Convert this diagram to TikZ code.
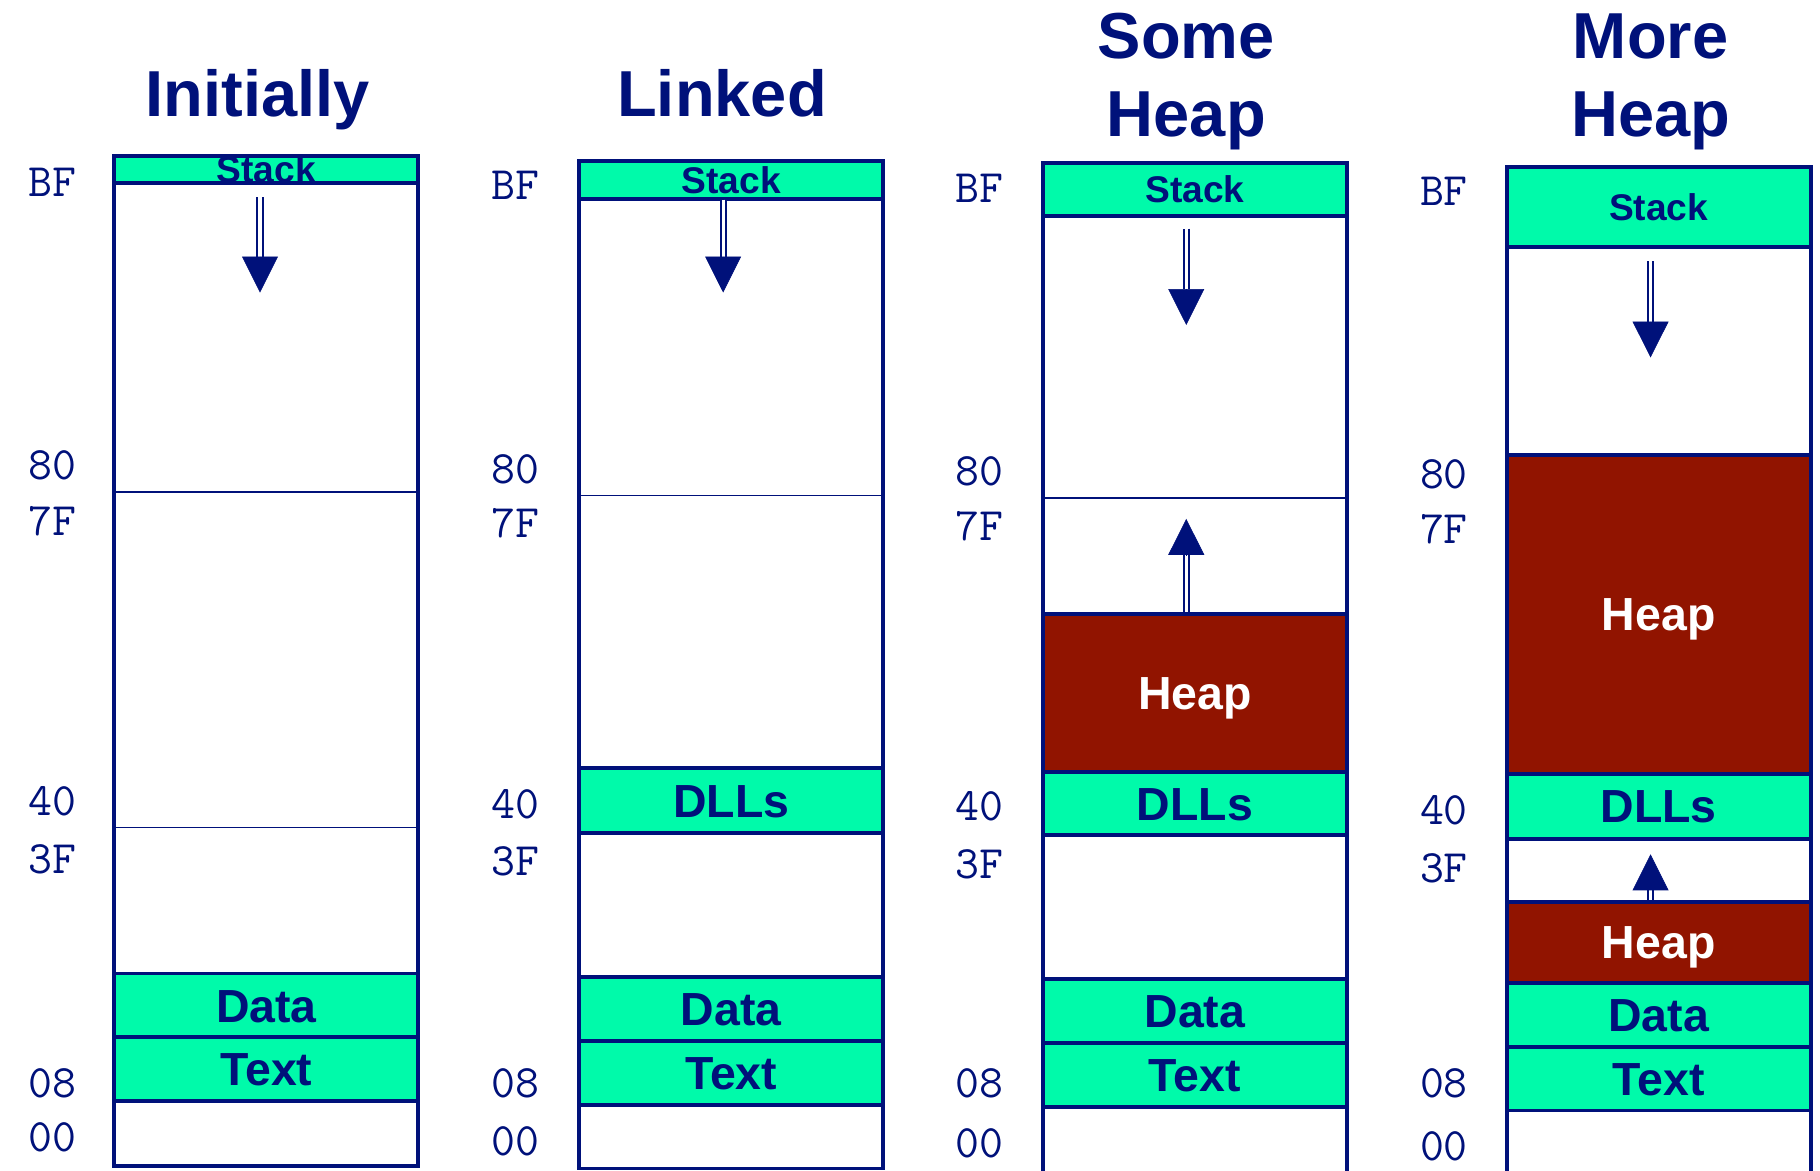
\documentclass[tikz,border=0pt]{standalone}
\usepackage{fontspec}
\setmainfont{Liberation Sans}
\usetikzlibrary{arrows.meta}
\definecolor{navy}{RGB}{0,17,122}
\definecolor{mint}{RGB}{0,250,170}
\definecolor{heapred}{RGB}{145,20,0}
\begin{document}
\begin{tikzpicture}
            [x=0.5pt, y=-0.5pt,
             frame/.style = {draw=navy, line width=1.7pt, minimum width=131pt, inner sep=0pt, anchor=north},
             seg/.style = {frame, fill=mint, text=navy, font=\bfseries\fontsize{20}{24}\selectfont, text height=14.3pt, text depth=0pt},
             stackseg/.style = {seg, font=\bfseries\fontsize{16}{19}\selectfont, text height=11.4pt},
             heapseg/.style = {seg, fill=heapred, text=white},
             title/.style = {text=navy, font=\bfseries\fontsize{28}{34}\selectfont, align=center, anchor=base, inner sep=0pt},
             addr/.style = {text=navy, font=\ttfamily\fontsize{20}{24}\selectfont, inner sep=0pt},
             sep/.style = {draw=navy, line width=0.65pt},
             shaft/.style = {draw=navy, line width=0.85pt, double=white, double distance=1.4pt},
             head/.style = {draw=navy, line width=0.3pt, -{Triangle[width=15.5pt, length=15.5pt]}}]
            \useasboundingbox (0,0) rectangle (1568,1008);
            % titles
            \node[title] (t1) at (222,100) {Initially};
            \node[title] (t2) at (622,100) {Linked};
            \node[title] (t3) at (1022,118) {Some\\Heap};
            \node[title] (t4) at (1422,118) {More\\Heap};
            % initially
            \node[frame, minimum height=435pt] (m1) at (229.5,133) {};
            \draw[sep] (m1.west |- 0,424) -- (m1.east |- 0,424);
            \draw[sep] (m1.west |- 0,713) -- (m1.east |- 0,713);
            \node[stackseg, minimum height=11.5pt] (stack1) at (229.5,133) {Stack};
            \node[seg, minimum height=27.5pt] (data1) at (229.5,837) {Data};
            \node[seg, minimum height=27.5pt] (text1) at (229.5,892) {Text};
            \draw[shaft] (224,170) -- (224,221);
            \draw[head] (224,221) -- (224,252);
            \foreach \a/\y in {BF/157, 80/401, 7F/449, 40/690, 3F/740, 08/933, 00/980}
                \node[addr] (a1\a) at (45,\y) {\a};
            % linked
            \node[frame, minimum height=434pt] (m2) at (630,137) {};
            \draw[sep] (m2.west |- 0,427) -- (m2.east |- 0,427);
            \node[stackseg, minimum height=16.5pt] (stack2) at (630,137) {Stack};
            \node[seg, minimum height=28pt] (dll2) at (630,660) {DLLs};
            \node[seg, minimum height=27.5pt] (data2) at (630,840) {Data};
            \node[seg, minimum height=27.5pt] (text2) at (630,895) {Text};
            \draw[shaft] (623,172) -- (623,221);
            \draw[head] (623,221) -- (623,252);
            \foreach \a/\y in {BF/160, 80/404, 7F/451, 40/693, 3F/742, 08/933, 00/983}
                \node[addr] (a2\a) at (444,\y) {\a};
            % some heap
            \node[frame, minimum height=441pt] (m3) at (1029.5,139) {};
            \draw[sep] (m3.west |- 0,429) -- (m3.east |- 0,429);
            \node[stackseg, minimum height=22.5pt] (stack3) at (1029.5,139) {Stack};
            \node[heapseg, minimum height=68pt] (heap3) at (1029.5,527) {Heap};
            \node[seg, minimum height=27.5pt] (dll3) at (1029.5,663) {DLLs};
            \node[seg, minimum height=27.5pt] (data3) at (1029.5,842) {Data};
            \node[seg, minimum height=27.5pt] (text3) at (1029.5,897) {Text};
            \draw[shaft] (1022,197) -- (1022,249);
            \draw[head] (1022,249) -- (1022,280);
            \draw[shaft] (1022,527) -- (1022,478);
            \draw[head] (1022,478) -- (1022,447);
            \foreach \a/\y in {BF/162, 80/406, 7F/453, 40/695, 3F/745, 08/933, 00/985}
                \node[addr] (a3\a) at (844,\y) {\a};
            % more heap
            \node[frame, minimum height=439pt] (m4) at (1429,142) {};
            \node[stackseg, minimum height=34.5pt] (stack4) at (1429,142) {Stack};
            \node[heapseg, minimum height=137.5pt] (heap4) at (1429,390) {Heap};
            \node[seg, minimum height=28pt] (dll4) at (1429,665) {DLLs};
            \node[heapseg, minimum height=35pt] (heapb4) at (1429,775) {Heap};
            \node[seg, minimum height=27.5pt] (data4) at (1429,845) {Data};
            \node[seg, minimum height=27.5pt] (text4) at (1429,900) {Text};
            \draw[shaft] (1422,225) -- (1422,277);
            \draw[head] (1422,277) -- (1422,308);
            \draw[shaft] (1422,775) -- (1422,766);
            \draw[head] (1422,766) -- (1422,736);
            \foreach \a/\y in {BF/165, 80/409, 7F/456, 40/698, 3F/748, 08/933, 00/988}
                \node[addr] (a4\a) at (1244,\y) {\a};
        \end{tikzpicture}
\end{document}
